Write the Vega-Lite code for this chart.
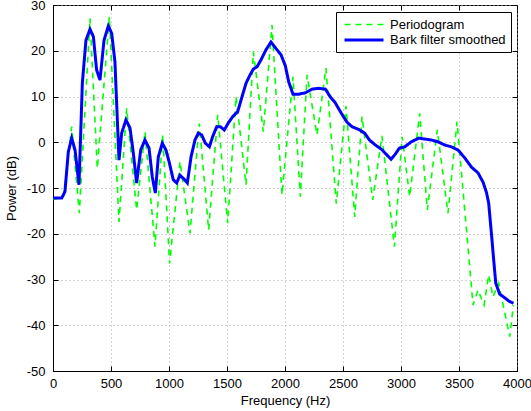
{
  "$schema": "https://vega.github.io/schema/vega-lite/v6.json",
  "width": 464,
  "height": 366,
  "autosize": {"type": "none"},
  "padding": {"left": 53, "top": 5, "right": 14, "bottom": 40},
  "background": "white",
  "config": {
    "view": {"stroke": "black", "strokeWidth": 1},
    "font": "Liberation Sans",
    "axis": {
      "labelFont": "Liberation Sans",
      "titleFont": "Liberation Sans",
      "labelFontSize": 13,
      "titleFontSize": 13,
      "titleFontWeight": "normal",
      "labelColor": "black",
      "titleColor": "black",
      "domainColor": "black",
      "tickColor": "black",
      "gridColor": "#a8a8a8",
      "gridDash": [1, 3],
      "gridWidth": 1
    },
    "legend": {
      "orient": "none",
      "legendX": 283,
      "legendY": 7,
      "strokeColor": "black",
      "fillColor": "white",
      "padding": 5,
      "labelFont": "Liberation Sans",
      "labelFontSize": 13,
      "labelColor": "black",
      "symbolType": "M-3,0H3",
      "symbolSize": 169,
      "symbolOffset": 15,
      "labelOffset": 18,
      "rowPadding": -4
    }
  },
  "data": {
    "values": [
      {"series": "Periodogram", "f": 0, "p": -12.5},
      {"series": "Periodogram", "f": 90, "p": -12},
      {"series": "Periodogram", "f": 161, "p": 3.4},
      {"series": "Periodogram", "f": 227, "p": -15.5},
      {"series": "Periodogram", "f": 319, "p": 27.1},
      {"series": "Periodogram", "f": 382, "p": -5.7},
      {"series": "Periodogram", "f": 486, "p": 27.4},
      {"series": "Periodogram", "f": 569, "p": -17.4},
      {"series": "Periodogram", "f": 635, "p": 7.4},
      {"series": "Periodogram", "f": 721, "p": -14.8},
      {"series": "Periodogram", "f": 793, "p": 2.3},
      {"series": "Periodogram", "f": 879, "p": -22.8},
      {"series": "Periodogram", "f": 946, "p": 1.6},
      {"series": "Periodogram", "f": 1005, "p": -26.5},
      {"series": "Periodogram", "f": 1095, "p": -4.2},
      {"series": "Periodogram", "f": 1181, "p": -19.9},
      {"series": "Periodogram", "f": 1261, "p": 4.1},
      {"series": "Periodogram", "f": 1342, "p": -19.2},
      {"series": "Periodogram", "f": 1420, "p": 6.0},
      {"series": "Periodogram", "f": 1506, "p": -17.7},
      {"series": "Periodogram", "f": 1578, "p": 10.0},
      {"series": "Periodogram", "f": 1664, "p": -9.3},
      {"series": "Periodogram", "f": 1727, "p": 19.8},
      {"series": "Periodogram", "f": 1813, "p": 2.3},
      {"series": "Periodogram", "f": 1888, "p": 25.6},
      {"series": "Periodogram", "f": 1974, "p": -11.5},
      {"series": "Periodogram", "f": 2069, "p": 14.3},
      {"series": "Periodogram", "f": 2132, "p": -11.9},
      {"series": "Periodogram", "f": 2190, "p": 14.7},
      {"series": "Periodogram", "f": 2276, "p": 1.6},
      {"series": "Periodogram", "f": 2353, "p": 16.2},
      {"series": "Periodogram", "f": 2442, "p": -13.4},
      {"series": "Periodogram", "f": 2526, "p": 7.9},
      {"series": "Periodogram", "f": 2601, "p": -16.3},
      {"series": "Periodogram", "f": 2664, "p": 5.6},
      {"series": "Periodogram", "f": 2756, "p": -12.6},
      {"series": "Periodogram", "f": 2836, "p": 1.4},
      {"series": "Periodogram", "f": 2943, "p": -22.8},
      {"series": "Periodogram", "f": 3010, "p": 1.2},
      {"series": "Periodogram", "f": 3075, "p": -11.9},
      {"series": "Periodogram", "f": 3161, "p": 6.3},
      {"series": "Periodogram", "f": 3227, "p": -14.8},
      {"series": "Periodogram", "f": 3313, "p": 2.7},
      {"series": "Periodogram", "f": 3405, "p": -15.5},
      {"series": "Periodogram", "f": 3483, "p": 4.5},
      {"series": "Periodogram", "f": 3621, "p": -35.6},
      {"series": "Periodogram", "f": 3664, "p": -32.3},
      {"series": "Periodogram", "f": 3716, "p": -35.6},
      {"series": "Periodogram", "f": 3756, "p": -29.0},
      {"series": "Periodogram", "f": 3793, "p": -33.8},
      {"series": "Periodogram", "f": 3842, "p": -30.8},
      {"series": "Periodogram", "f": 3937, "p": -42.5},
      {"series": "Periodogram", "f": 3969, "p": -35.6},
      {"series": "Bark filter smoothed", "f": 0, "p": -12.2},
      {"series": "Bark filter smoothed", "f": 75, "p": -12.2},
      {"series": "Bark filter smoothed", "f": 103, "p": -10.8},
      {"series": "Bark filter smoothed", "f": 132, "p": -2.1},
      {"series": "Bark filter smoothed", "f": 161, "p": 0.9},
      {"series": "Bark filter smoothed", "f": 190, "p": -1.7},
      {"series": "Bark filter smoothed", "f": 224, "p": -9.3},
      {"series": "Bark filter smoothed", "f": 253, "p": 12.9},
      {"series": "Bark filter smoothed", "f": 284, "p": 22.3},
      {"series": "Bark filter smoothed", "f": 319, "p": 24.7},
      {"series": "Bark filter smoothed", "f": 348, "p": 23.1},
      {"series": "Bark filter smoothed", "f": 376, "p": 15.8},
      {"series": "Bark filter smoothed", "f": 405, "p": 13.6},
      {"series": "Bark filter smoothed", "f": 440, "p": 22.3},
      {"series": "Bark filter smoothed", "f": 477, "p": 25.4},
      {"series": "Bark filter smoothed", "f": 506, "p": 23.8},
      {"series": "Bark filter smoothed", "f": 534, "p": 17.6},
      {"series": "Bark filter smoothed", "f": 569, "p": -3.9},
      {"series": "Bark filter smoothed", "f": 592, "p": 2.0},
      {"series": "Bark filter smoothed", "f": 629, "p": 4.9},
      {"series": "Bark filter smoothed", "f": 664, "p": 3.1},
      {"series": "Bark filter smoothed", "f": 692, "p": -2.3},
      {"series": "Bark filter smoothed", "f": 721, "p": -8.9},
      {"series": "Bark filter smoothed", "f": 756, "p": -1.7},
      {"series": "Bark filter smoothed", "f": 793, "p": 0.5},
      {"series": "Bark filter smoothed", "f": 828, "p": -1.3},
      {"series": "Bark filter smoothed", "f": 856, "p": -7.6},
      {"series": "Bark filter smoothed", "f": 882, "p": -11.1},
      {"series": "Bark filter smoothed", "f": 908, "p": -3.2},
      {"series": "Bark filter smoothed", "f": 942, "p": -0.2},
      {"series": "Bark filter smoothed", "f": 974, "p": -1.7},
      {"series": "Bark filter smoothed", "f": 1003, "p": -4.5},
      {"series": "Bark filter smoothed", "f": 1037, "p": -8.2},
      {"series": "Bark filter smoothed", "f": 1066, "p": -8.9},
      {"series": "Bark filter smoothed", "f": 1095, "p": -7.2},
      {"series": "Bark filter smoothed", "f": 1123, "p": -7.9},
      {"series": "Bark filter smoothed", "f": 1158, "p": -8.9},
      {"series": "Bark filter smoothed", "f": 1190, "p": -3.2},
      {"series": "Bark filter smoothed", "f": 1224, "p": 0.5},
      {"series": "Bark filter smoothed", "f": 1253, "p": 2.0},
      {"series": "Bark filter smoothed", "f": 1282, "p": 1.6},
      {"series": "Bark filter smoothed", "f": 1313, "p": -0.2},
      {"series": "Bark filter smoothed", "f": 1348, "p": -1.0},
      {"series": "Bark filter smoothed", "f": 1376, "p": 1.2},
      {"series": "Bark filter smoothed", "f": 1411, "p": 3.4},
      {"series": "Bark filter smoothed", "f": 1442, "p": 3.4},
      {"series": "Bark filter smoothed", "f": 1477, "p": 2.7},
      {"series": "Bark filter smoothed", "f": 1511, "p": 4.2},
      {"series": "Bark filter smoothed", "f": 1549, "p": 5.6},
      {"series": "Bark filter smoothed", "f": 1592, "p": 6.7},
      {"series": "Bark filter smoothed", "f": 1629, "p": 9.9},
      {"series": "Bark filter smoothed", "f": 1664, "p": 12.9},
      {"series": "Bark filter smoothed", "f": 1698, "p": 14.7},
      {"series": "Bark filter smoothed", "f": 1727, "p": 16.0},
      {"series": "Bark filter smoothed", "f": 1759, "p": 16.5},
      {"series": "Bark filter smoothed", "f": 1793, "p": 18.0},
      {"series": "Bark filter smoothed", "f": 1836, "p": 20.2},
      {"series": "Bark filter smoothed", "f": 1879, "p": 21.9},
      {"series": "Bark filter smoothed", "f": 1922, "p": 20.5},
      {"series": "Bark filter smoothed", "f": 1966, "p": 19.1},
      {"series": "Bark filter smoothed", "f": 2003, "p": 16.7},
      {"series": "Bark filter smoothed", "f": 2032, "p": 13.2},
      {"series": "Bark filter smoothed", "f": 2069, "p": 10.5},
      {"series": "Bark filter smoothed", "f": 2118, "p": 10.5},
      {"series": "Bark filter smoothed", "f": 2175, "p": 10.8},
      {"series": "Bark filter smoothed", "f": 2233, "p": 11.6},
      {"series": "Bark filter smoothed", "f": 2290, "p": 11.8},
      {"series": "Bark filter smoothed", "f": 2348, "p": 11.6},
      {"series": "Bark filter smoothed", "f": 2391, "p": 9.9},
      {"series": "Bark filter smoothed", "f": 2434, "p": 8.6},
      {"series": "Bark filter smoothed", "f": 2486, "p": 6.3},
      {"series": "Bark filter smoothed", "f": 2534, "p": 4.4},
      {"series": "Bark filter smoothed", "f": 2578, "p": 3.4},
      {"series": "Bark filter smoothed", "f": 2635, "p": 2.8},
      {"series": "Bark filter smoothed", "f": 2687, "p": 2.0},
      {"series": "Bark filter smoothed", "f": 2727, "p": 0.5},
      {"series": "Bark filter smoothed", "f": 2779, "p": -0.6},
      {"series": "Bark filter smoothed", "f": 2830, "p": -1.5},
      {"series": "Bark filter smoothed", "f": 2879, "p": -2.8},
      {"series": "Bark filter smoothed", "f": 2914, "p": -3.7},
      {"series": "Bark filter smoothed", "f": 2951, "p": -2.6},
      {"series": "Bark filter smoothed", "f": 2985, "p": -1.3},
      {"series": "Bark filter smoothed", "f": 3032, "p": -1.0},
      {"series": "Bark filter smoothed", "f": 3089, "p": 0.1},
      {"series": "Bark filter smoothed", "f": 3153, "p": 0.9},
      {"series": "Bark filter smoothed", "f": 3204, "p": 0.7},
      {"series": "Bark filter smoothed", "f": 3261, "p": 0.5},
      {"series": "Bark filter smoothed", "f": 3319, "p": 0.1},
      {"series": "Bark filter smoothed", "f": 3377, "p": -0.6},
      {"series": "Bark filter smoothed", "f": 3434, "p": -1.0},
      {"series": "Bark filter smoothed", "f": 3491, "p": -1.7},
      {"series": "Bark filter smoothed", "f": 3549, "p": -3.4},
      {"series": "Bark filter smoothed", "f": 3606, "p": -5.4},
      {"series": "Bark filter smoothed", "f": 3664, "p": -6.7},
      {"series": "Bark filter smoothed", "f": 3707, "p": -8.7},
      {"series": "Bark filter smoothed", "f": 3736, "p": -10.9},
      {"series": "Bark filter smoothed", "f": 3756, "p": -13.3},
      {"series": "Bark filter smoothed", "f": 3779, "p": -19.8},
      {"series": "Bark filter smoothed", "f": 3799, "p": -25.7},
      {"series": "Bark filter smoothed", "f": 3817, "p": -30.8},
      {"series": "Bark filter smoothed", "f": 3851, "p": -33.2},
      {"series": "Bark filter smoothed", "f": 3894, "p": -34.0},
      {"series": "Bark filter smoothed", "f": 3929, "p": -34.7},
      {"series": "Bark filter smoothed", "f": 3969, "p": -35.2}
    ]
  },
  "encoding": {
    "x": {
      "field": "f",
      "type": "quantitative",
      "scale": {"domain": [0, 4000], "nice": false, "zero": false},
      "axis": {
        "title": "Frequency (Hz)",
        "values": [0, 500, 1000, 1500, 2000, 2500, 3000, 3500, 4000],
        "labelExpr": "'' + datum.value",
        "tickSize": -5,
        "labelPadding": 11,
        "labelFlush": false,
        "labelOverlap": false,
        "titlePadding": 4,
        "grid": true
      }
    },
    "y": {
      "field": "p",
      "type": "quantitative",
      "scale": {"domain": [-50, 30], "nice": false, "zero": false},
      "axis": {
        "title": "Power (dB)",
        "values": [-50, -40, -30, -20, -10, 0, 10, 20, 30],
        "labelExpr": "'' + datum.value",
        "tickSize": -5,
        "labelPadding": 13,
        "labelOverlap": false,
        "labelFlush": false,
        "titlePadding": 8,
        "grid": true
      }
    },
    "color": {
      "field": "series",
      "type": "nominal",
      "title": null,
      "scale": {"domain": ["Periodogram", "Bark filter smoothed"], "range": ["#00ff00", "#0000ff"]}
    },
    "strokeDash": {
      "field": "series",
      "type": "nominal",
      "title": null,
      "scale": {"domain": ["Periodogram", "Bark filter smoothed"], "range": [[6, 5], [1, 0]]}
    },
    "strokeWidth": {
      "field": "series",
      "type": "nominal",
      "title": null,
      "scale": {"type": "ordinal", "domain": ["Periodogram", "Bark filter smoothed"], "range": [1.6, 3]}
    }
  },
  "layer": [
    {
      "transform": [{"filter": "datum.series === 'Periodogram'"}],
      "mark": {"type": "line", "clip": true}
    },
    {
      "transform": [{"filter": "datum.series === 'Bark filter smoothed'"}],
      "mark": {"type": "line", "clip": true},
      "encoding": {
        "x": {
          "field": "f",
          "type": "quantitative",
          "axis": {"orient": "top", "title": null, "labels": false, "grid": false, "domain": false, "tickSize": -5, "values": [0, 500, 1000, 1500, 2000, 2500, 3000, 3500, 4000]}
        },
        "y": {
          "field": "p",
          "type": "quantitative",
          "axis": {"orient": "right", "title": null, "labels": false, "grid": false, "domain": false, "tickSize": -5, "values": [-50, -40, -30, -20, -10, 0, 10, 20, 30]}
        }
      }
    }
  ],
  "resolve": {"axis": {"x": "independent", "y": "independent"}}
}
